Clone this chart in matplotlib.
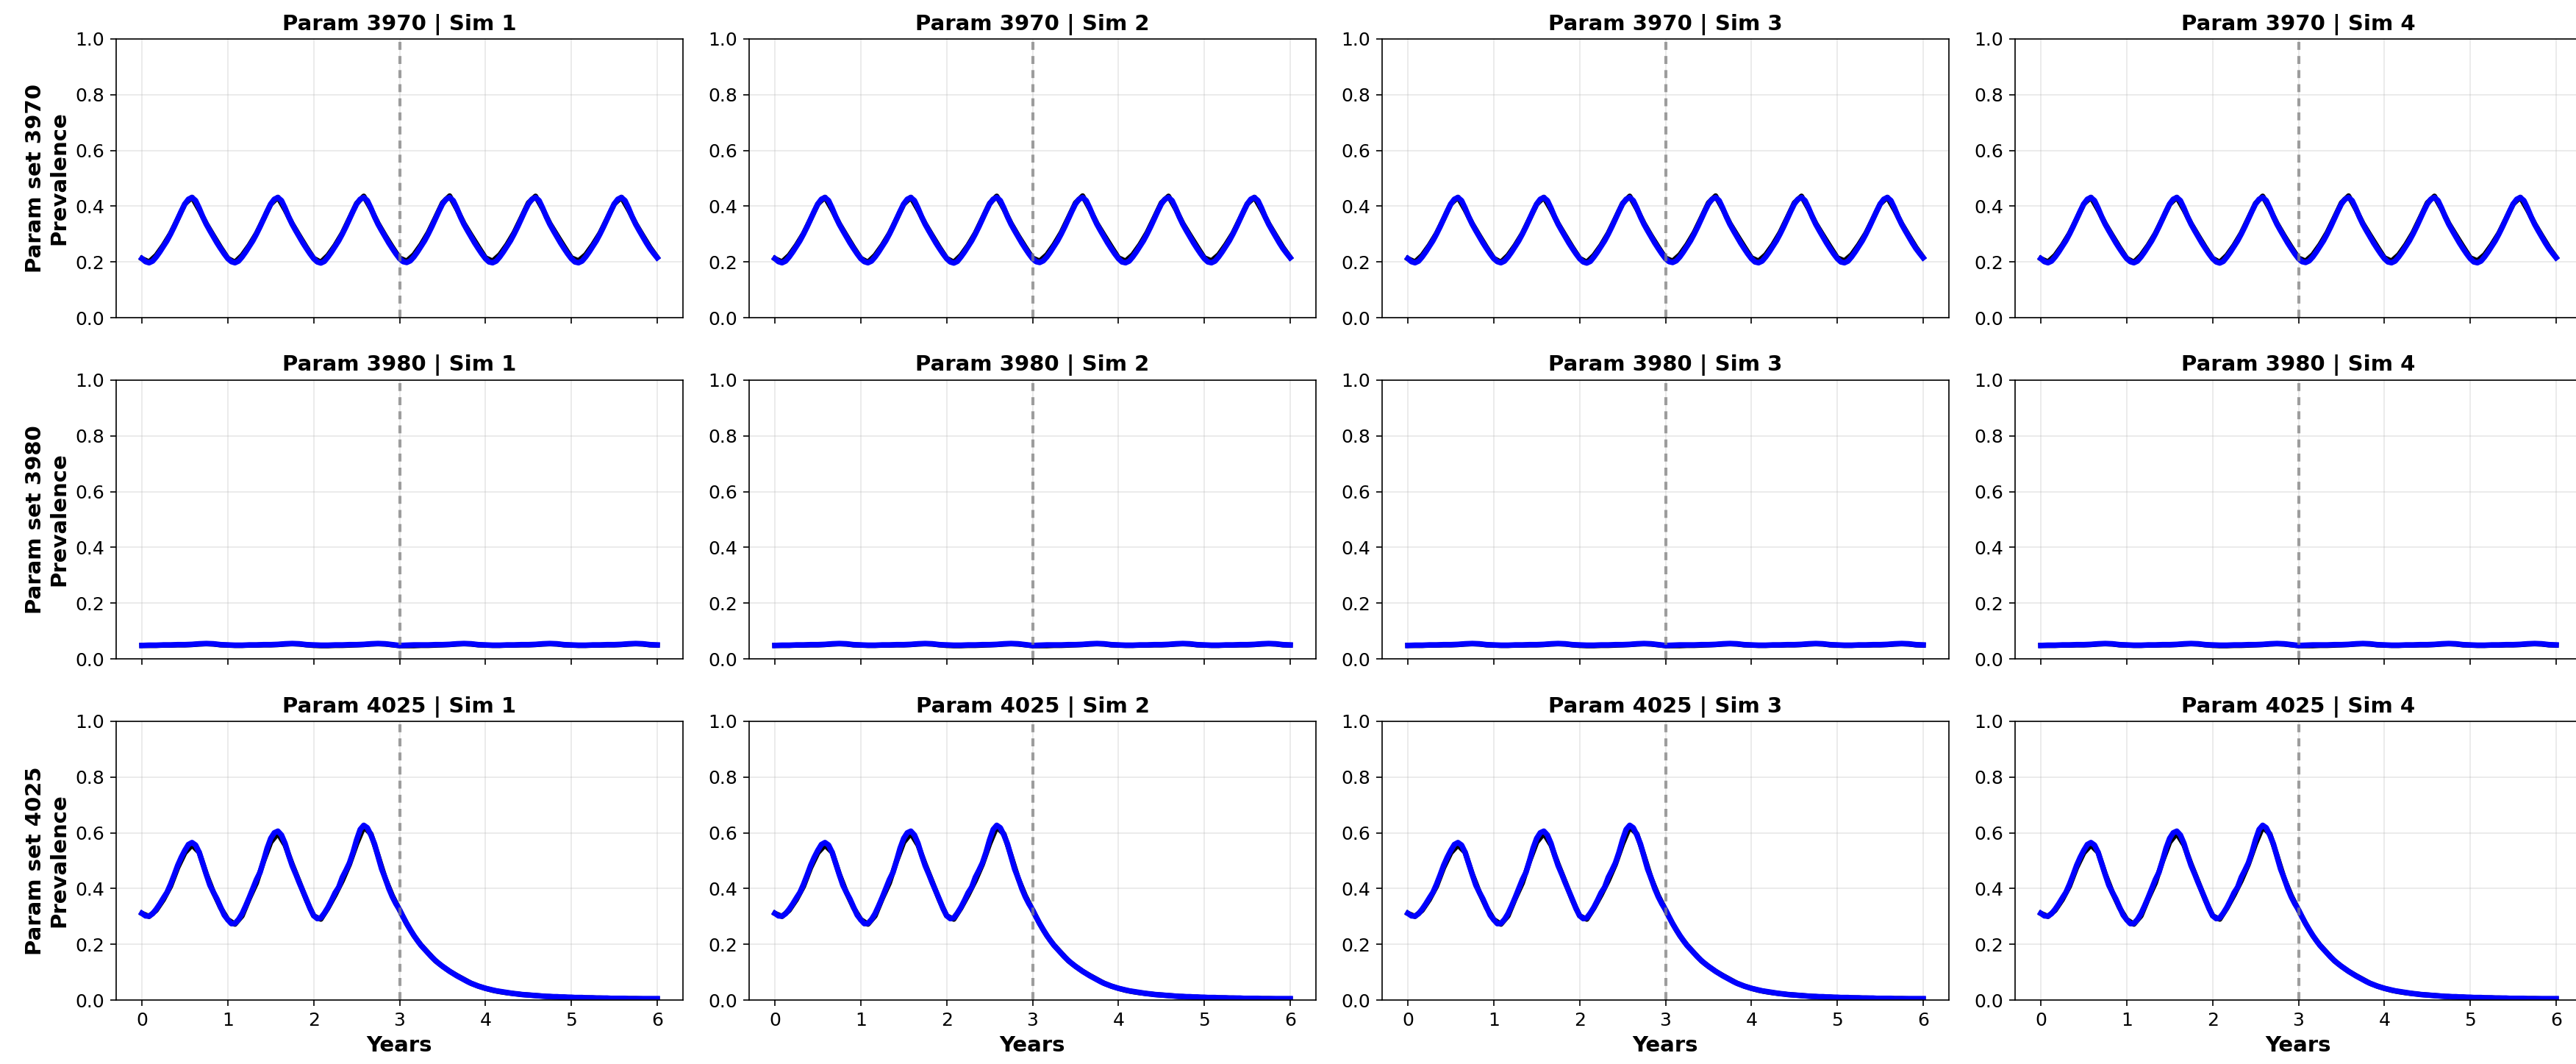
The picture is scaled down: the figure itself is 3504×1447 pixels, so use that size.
import numpy as np
import matplotlib
matplotlib.use("Agg")
import matplotlib.pyplot as plt

# time points: half-month for the fitted curves, monthly for the simulations
years_fine = np.arange(145) / 24.0
years_month = np.arange(73) / 12.0
switch_year = 3.0

param_sets = [3970, 3980, 4025]
sims = [1, 2, 3, 4]

# prevalence (blue = model fit, black = simulation)
blue_3970 = [0.212, 0.201, 0.197, 0.203, 0.218, 0.236, 0.256, 0.276, 0.300, 0.326, 0.354, 0.382,
             0.408, 0.425, 0.431, 0.420, 0.393, 0.362, 0.335, 0.312, 0.290, 0.268, 0.248, 0.229,
             0.212, 0.201, 0.197, 0.203, 0.218, 0.236, 0.256, 0.276, 0.300, 0.326, 0.354, 0.382,
             0.408, 0.425, 0.431, 0.420, 0.393, 0.362, 0.335, 0.312, 0.290, 0.268, 0.248, 0.229,
             0.212, 0.200, 0.196, 0.202, 0.218, 0.236, 0.256, 0.276, 0.300, 0.326, 0.354, 0.382,
             0.408, 0.425, 0.431, 0.420, 0.393, 0.362, 0.335, 0.312, 0.290, 0.268, 0.248, 0.229,
             0.212, 0.201, 0.198, 0.204, 0.218, 0.236, 0.256, 0.276, 0.300, 0.326, 0.354, 0.382,
             0.408, 0.425, 0.431, 0.420, 0.393, 0.362, 0.335, 0.312, 0.290, 0.268, 0.248, 0.229,
             0.212, 0.200, 0.197, 0.203, 0.218, 0.236, 0.256, 0.276, 0.300, 0.326, 0.354, 0.382,
             0.408, 0.425, 0.431, 0.420, 0.393, 0.362, 0.335, 0.312, 0.290, 0.268, 0.248, 0.229,
             0.212, 0.200, 0.197, 0.203, 0.218, 0.236, 0.256, 0.276, 0.300, 0.326, 0.354, 0.382,
             0.408, 0.425, 0.431, 0.420, 0.393, 0.362, 0.335, 0.312, 0.290, 0.268, 0.248, 0.231,
             0.215]
black_3970 = [0.212, 0.200, 0.224, 0.260, 0.302, 0.354, 0.408, 0.432, 0.387, 0.337, 0.294, 0.252,
              0.213, 0.199, 0.224, 0.260, 0.302, 0.354, 0.407, 0.432, 0.387, 0.337, 0.294, 0.252,
              0.213, 0.199, 0.224, 0.260, 0.303, 0.356, 0.410, 0.436, 0.390, 0.338, 0.294, 0.253,
              0.214, 0.203, 0.226, 0.262, 0.305, 0.358, 0.412, 0.437, 0.390, 0.338, 0.296, 0.255,
              0.215, 0.203, 0.226, 0.262, 0.305, 0.358, 0.412, 0.436, 0.390, 0.338, 0.296, 0.255,
              0.215, 0.204, 0.226, 0.262, 0.303, 0.355, 0.408, 0.432, 0.387, 0.337, 0.294, 0.252,
              0.216]

blue_3980 = [0.048, 0.049, 0.049, 0.050, 0.050, 0.051, 0.051, 0.052, 0.054, 0.055, 0.054, 0.051,
             0.050, 0.049, 0.049, 0.050, 0.050, 0.051, 0.051, 0.052, 0.054, 0.055, 0.054, 0.051,
             0.050, 0.049, 0.049, 0.050, 0.050, 0.051, 0.051, 0.052, 0.054, 0.055, 0.054, 0.051,
             0.048, 0.049, 0.050, 0.050, 0.050, 0.051, 0.051, 0.052, 0.054, 0.055, 0.054, 0.051,
             0.050, 0.049, 0.049, 0.050, 0.050, 0.051, 0.051, 0.052, 0.054, 0.055, 0.054, 0.051,
             0.050, 0.049, 0.049, 0.050, 0.050, 0.051, 0.051, 0.052, 0.054, 0.055, 0.054, 0.051,
             0.050]
black_3980 = [0.048, 0.048, 0.048, 0.049, 0.049, 0.050, 0.050, 0.051, 0.053, 0.054, 0.053, 0.050,
              0.049, 0.048, 0.048, 0.049, 0.049, 0.050, 0.050, 0.051, 0.053, 0.054, 0.053, 0.050,
              0.048, 0.047, 0.047, 0.048, 0.048, 0.049, 0.050, 0.051, 0.053, 0.054, 0.053, 0.050,
              0.047, 0.047, 0.047, 0.048, 0.048, 0.049, 0.050, 0.051, 0.053, 0.054, 0.053, 0.050,
              0.049, 0.048, 0.048, 0.049, 0.049, 0.050, 0.050, 0.051, 0.053, 0.054, 0.053, 0.050,
              0.049, 0.048, 0.048, 0.049, 0.049, 0.050, 0.050, 0.051, 0.053, 0.054, 0.053, 0.050,
              0.049]

blue_4025 = [0.311, 0.302, 0.301, 0.310, 0.326, 0.345, 0.366, 0.386, 0.415, 0.448, 0.483, 0.512,
             0.537, 0.558, 0.565, 0.556, 0.530, 0.490, 0.450, 0.412, 0.386, 0.362, 0.333, 0.305,
             0.288, 0.274, 0.275, 0.289, 0.310, 0.338, 0.368, 0.400, 0.432, 0.458, 0.500, 0.545,
             0.580, 0.600, 0.606, 0.592, 0.562, 0.520, 0.482, 0.452, 0.420, 0.390, 0.360, 0.328,
             0.303, 0.292, 0.295, 0.312, 0.333, 0.358, 0.385, 0.405, 0.440, 0.465, 0.492, 0.530,
             0.575, 0.612, 0.627, 0.618, 0.592, 0.560, 0.515, 0.470, 0.437, 0.400, 0.370, 0.345,
             0.324, 0.298, 0.274, 0.252, 0.232, 0.213, 0.196, 0.182, 0.168, 0.154, 0.142, 0.131,
             0.121, 0.112, 0.103, 0.095, 0.087, 0.080, 0.073, 0.066, 0.060, 0.055, 0.050, 0.046,
             0.042, 0.039, 0.036, 0.033, 0.031, 0.029, 0.027, 0.025, 0.023, 0.022, 0.020, 0.019,
             0.018, 0.017, 0.016, 0.015, 0.014, 0.013, 0.013, 0.012, 0.012, 0.011, 0.011, 0.010,
             0.010, 0.009, 0.009, 0.009, 0.008, 0.008, 0.008, 0.007, 0.007, 0.007, 0.007, 0.006,
             0.006, 0.006, 0.006, 0.006, 0.005, 0.005, 0.005, 0.005, 0.005, 0.005, 0.005, 0.005,
             0.005]
black_4025 = [0.311, 0.300, 0.322, 0.360, 0.408, 0.475, 0.528, 0.556, 0.530, 0.452, 0.386, 0.331,
              0.289, 0.272, 0.302, 0.364, 0.420, 0.498, 0.566, 0.598, 0.556, 0.487, 0.423, 0.358,
              0.302, 0.290, 0.330, 0.377, 0.428, 0.487, 0.560, 0.621, 0.596, 0.518, 0.436, 0.374,
              0.323, 0.274, 0.231, 0.197, 0.169, 0.141, 0.121, 0.103, 0.088, 0.074, 0.060, 0.050,
              0.042, 0.035, 0.030, 0.026, 0.023, 0.020, 0.018, 0.016, 0.014, 0.012, 0.011, 0.010,
              0.009, 0.008, 0.008, 0.007, 0.007, 0.006, 0.006, 0.005, 0.005, 0.005, 0.004, 0.004,
              0.004]

blue_series = [(years_fine, blue_3970), (years_month, blue_3980), (years_fine, blue_4025)]
black_series = [black_3970, black_3980, black_4025]

DPI = 150
plt.rcParams['font.size'] = 12
fig = plt.figure(figsize=(3504 / DPI, 1447 / DPI), dpi=DPI)

W, H = 3504, 1447
col_left = [158, 1019, 1880, 2741]
row_top = [53, 517, 981]
ax_w, ax_h = 771, 379

for i, p in enumerate(param_sets):
    for j, s in enumerate(sims):
        ax = fig.add_axes([col_left[j] / W, (H - row_top[i] - ax_h) / H, ax_w / W, ax_h / H])
        ax.plot(years_month, black_series[i], color='black', lw=3.4)
        bx, by = blue_series[i]
        ax.plot(bx, by, color='blue', lw=3.6)
        ax.axvline(switch_year, color='gray', ls=(0, (2.6, 2.0)), lw=2.0, alpha=0.75)
        ax.set_ylim(0, 1)
        ax.set_xticks(range(7))
        ax.grid(True, alpha=0.3)
        ax.tick_params(length=4)
        ax.set_title(f'Param {p} | Sim {s}', fontsize=14, fontweight='bold')
        if j == 0:
            ax.set_ylabel(f'Param set {p}\nPrevalence', fontsize=14, fontweight='bold')
        if i == 2:
            ax.set_xlabel('Years', fontsize=14, fontweight='bold')
        else:
            ax.tick_params(labelbottom=False)

fig.savefig('out.png', dpi=DPI)
